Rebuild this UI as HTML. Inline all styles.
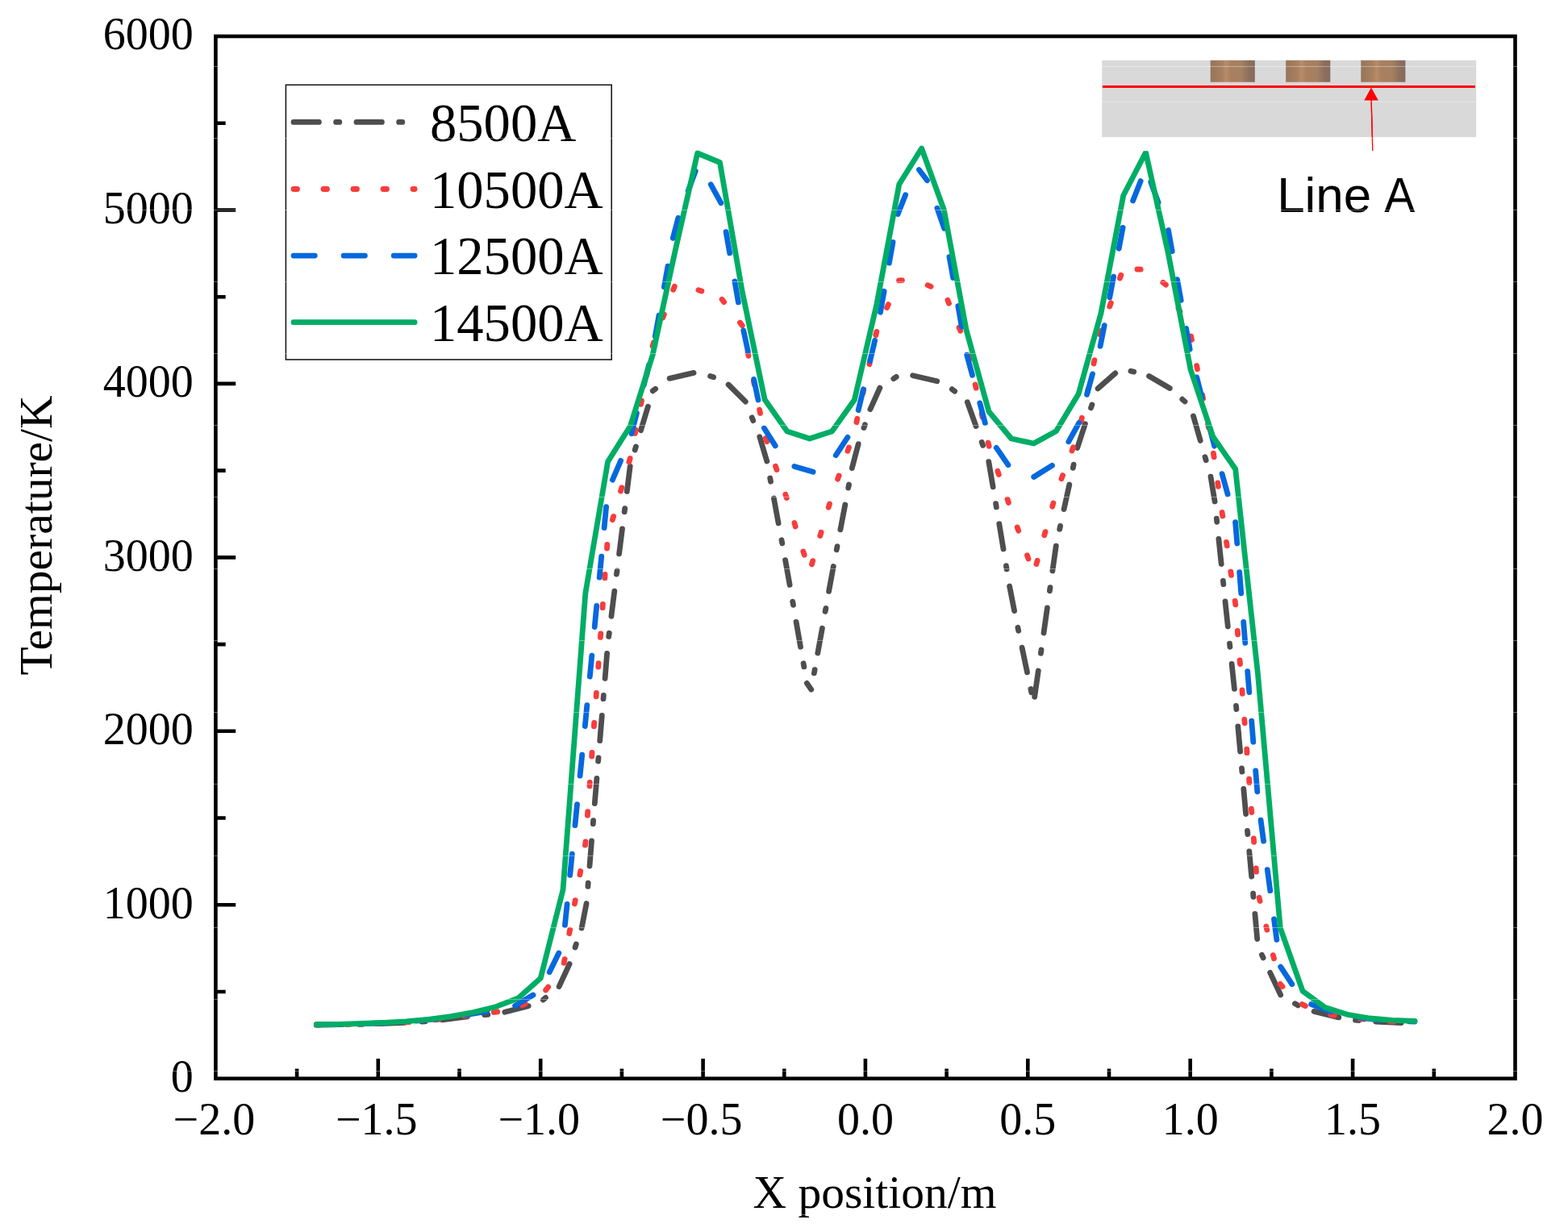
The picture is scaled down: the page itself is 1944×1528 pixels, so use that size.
<!DOCTYPE html>
<html lang="en"><head><meta charset="utf-8"><title>Temperature along Line A</title>
<style>html,body{margin:0;padding:0;background:#fff}body{width:1944px;height:1528px;overflow:hidden}svg{display:block}text{font-family:"Liberation Serif","Times New Roman",Times,serif;fill:#000}.tk{font-size:56px}.tt{font-size:57.5px}.lg{font-size:66.6px}.sa{font-family:"Liberation Sans",Arial,Helvetica,sans-serif;font-size:61px}</style></head><body>
<svg width="1944" height="1528" viewBox="0 0 1944 1528">
<defs><linearGradient id="cu" x1="0" y1="0" x2="1" y2="0"><stop offset="0" stop-color="#98745a"/><stop offset="0.15" stop-color="#a07b5d"/><stop offset="0.27" stop-color="#a9815f"/><stop offset="0.35" stop-color="#b68c6b"/><stop offset="0.46" stop-color="#aa7f5f"/><stop offset="0.7" stop-color="#a58062"/><stop offset="0.86" stop-color="#8d6f5c"/><stop offset="1" stop-color="#856a5d"/></linearGradient></defs>
<rect width="1944" height="1528" fill="#fff"/>
<g id="inset">
<rect x="1366.2" y="74.8" width="464" height="95.5" fill="#d9d9d9"/>
<rect x="1500.7" y="74.8" width="55.1" height="27" fill="url(#cu)"/>
<rect x="1594.2" y="74.8" width="55.1" height="27" fill="url(#cu)"/>
<rect x="1687.3" y="74.8" width="55.1" height="27" fill="url(#cu)"/>
<line x1="1367" y1="107.5" x2="1828.8" y2="107.5" stroke="#ff0000" stroke-width="3"/>
<line x1="1700.1" y1="122" x2="1701.8" y2="187" stroke="#ff0000" stroke-width="1.3"/>
<path d="M1700 108.6L1708.8 124.4L1691.3 124.4Z" fill="#ff0000"/>
<text class="sa" y="262.6"><tspan x="1583.2" textLength="117" lengthAdjust="spacingAndGlyphs">Line</tspan> <tspan x="1716.3" textLength="38" lengthAdjust="spacingAndGlyphs">A</tspan></text>
</g>
<g id="curves" fill="none" stroke-width="6.8">
<path d="M392.3 1271.1L423.7 1270.7M445.0 1270.4L449.2 1270.3M470.4 1269.7L501.8 1268.4M523.0 1267.0L527.2 1266.8M548.3 1264.8L579.5 1260.8M600.6 1258.6L604.8 1258.3M625.8 1255.3L655.2 1247.7M673.3 1240.1L676.5 1237.4M693.1 1223.7L706.1 1195.5M713.0 1175.1L714.3 1171.1M721.1 1151.1L727.1 1120.5M728.9 1099.4L729.2 1095.2M731.0 1074.0L733.5 1042.8M735.3 1021.8L735.6 1017.7M737.3 996.5L739.9 965.3M741.6 944.1L742.0 939.9M743.7 918.7L746.3 887.5M748.0 866.7L748.3 862.5M750.1 841.4L752.6 810.3M754.7 789.5L755.3 785.3M757.9 764.3L761.8 733.1M764.4 712.1L765.0 707.9M767.6 686.9L771.5 655.8M774.2 634.8L774.7 630.6M777.3 609.5L781.2 578.3M787.2 558.0L788.4 554.0M794.5 533.7L803.4 504.2M809.3 484.8L812.7 482.3M830.1 469.4L860.1 462.4M880.6 466.6L884.6 467.8M903.1 477.0L924.3 498.1M932.2 517.8L933.8 521.7M941.8 541.7L950.8 572.0M954.7 593.0L955.5 597.2M959.4 618.0L965.1 648.9M969.0 669.8L969.8 673.9M973.6 694.6L979.1 725.3M982.7 746.2L983.5 750.3M987.1 771.4L992.5 802.2M996.1 822.8L996.8 826.8M1000.4 847.3L1005.7 855.2M1009.4 834.8L1010.1 830.7M1013.8 810.0L1019.4 779.3M1023.1 758.5L1023.9 754.4M1027.6 733.4L1033.3 702.5M1037.2 681.8L1038.0 677.7M1041.9 656.8L1047.8 626.0M1051.7 605.1L1052.5 601.0M1056.3 580.6L1064.2 550.6M1071.0 530.6L1072.4 526.7M1078.9 507.6L1090.9 481.0M1107.8 469.7L1111.2 467.4M1131.6 465.7L1161.8 472.8M1180.3 482.7L1183.7 485.2M1199.4 498.8L1210.0 528.5M1217.2 548.4L1218.6 552.4M1225.8 572.6L1231.1 603.8M1234.6 624.7L1235.3 628.9M1238.8 649.8L1244.0 680.9M1247.4 701.8L1248.1 705.9M1251.6 727.0L1257.6 757.7M1261.9 778.3L1262.7 782.4M1267.1 803.2L1273.5 833.8M1277.9 854.5L1278.7 858.7M1282.7 864.3L1287.3 832.0M1290.4 810.2L1291.0 806.0M1294.0 785.0L1298.4 753.9M1301.4 732.8L1302.0 728.7M1304.9 708.0L1309.3 677.1M1313.7 656.4L1314.6 652.3M1319.1 631.6L1325.8 601.0M1330.3 580.3L1331.1 576.2M1335.7 555.4L1345.4 525.7M1352.5 505.9L1353.9 501.9M1361.1 481.9L1382.8 462.9M1401.9 460.2L1405.8 461.1M1424.6 466.5L1450.3 481.5M1465.8 495.2L1469.0 498.0M1479.5 516.0L1488.2 546.4M1494.0 566.8L1495.2 570.8M1501.0 591.2L1506.1 622.0M1508.3 643.1L1508.7 647.3M1510.9 668.4L1514.2 699.5M1516.4 720.5L1516.8 724.7M1519.0 745.8L1522.3 777.0M1524.5 798.1L1524.9 802.3M1527.1 823.3L1530.4 854.4M1532.5 875.5L1532.9 879.6M1534.8 900.8L1537.6 932.0M1539.5 953.0L1539.9 957.2M1541.8 978.3L1544.6 1009.5M1546.5 1030.5L1546.9 1034.6M1548.8 1055.9L1551.7 1087.1M1553.6 1108.2L1553.9 1112.3M1555.9 1133.4L1558.7 1164.5M1564.4 1184.2L1566.2 1187.9M1574.7 1206.4L1587.7 1234.0M1605.5 1244.7L1609.1 1246.9M1629.1 1254.4L1659.8 1261.9M1680.5 1265.2L1684.7 1265.5M1705.8 1267.2L1737.2 1268.7" stroke="#4e4e4e" stroke-linecap="round"/>
<path d="M392.3 1271.0L396.8 1271.0M429.1 1270.5L433.6 1270.4M465.9 1269.5L470.4 1269.4M502.7 1267.8L507.1 1267.5M539.3 1264.9L543.8 1264.4M575.8 1259.9L580.2 1259.2M612.3 1255.5L616.7 1254.8M647.3 1246.6L651.3 1244.8M676.6 1228.0L679.7 1224.2M699.2 1194.4L700.1 1189.7M705.8 1157.7L706.6 1153.2M712.4 1121.0L713.2 1116.6M718.9 1084.9L719.7 1080.5M725.5 1048.2L726.0 1043.8M728.4 1011.2L728.7 1006.7M731.0 974.9L731.3 970.4M733.7 938.0L734.0 933.5M736.4 900.8L736.7 896.3M739.1 863.8L739.4 859.3M741.8 827.1L742.1 822.6M744.4 790.4L744.8 785.9M747.1 753.7L747.4 749.3M749.8 716.9L750.1 712.4M752.5 680.0L752.8 675.5M759.3 644.7L760.6 640.4M769.5 609.1L770.8 604.7M779.9 572.9L781.2 568.6M787.4 537.6L788.3 533.2M794.6 501.3L795.5 496.9M801.8 465.2L802.7 460.8M809.0 429.1L810.5 424.8M821.8 394.1L823.4 389.9M834.7 359.3L836.3 355.2M865.9 359.7L869.9 360.9M895.1 371.3L897.6 374.6M917.5 400.1L920.3 403.8M927.1 436.7L928.0 441.3M934.4 472.6L935.2 476.9M941.6 508.2L942.5 512.5M949.4 543.5L950.8 547.7M961.5 578.3L963.0 582.6M973.8 613.3L975.3 617.6M984.9 648.6L986.2 652.9M995.8 684.0L997.2 688.3M1006.5 699.9L1007.7 695.6M1016.8 664.6L1018.1 660.3M1027.2 629.2L1028.5 624.9M1038.6 594.2L1040.1 590.0M1050.9 559.3L1052.4 555.0M1061.9 523.7L1062.8 519.3M1069.9 487.7L1070.8 483.3M1077.9 451.7L1078.8 447.3M1085.8 415.7L1086.8 411.4M1099.6 381.7L1101.4 377.6M1114.5 347.9L1118.4 347.6M1150.1 353.7L1154.1 355.3M1174.9 372.2L1176.5 376.2M1189.0 406.1L1190.7 410.3M1201.0 440.9L1202.0 445.3M1209.1 477.0L1210.1 481.3M1217.1 513.0L1218.1 517.4M1225.1 549.1L1226.2 553.4M1236.9 584.3L1238.3 588.5M1249.0 619.2L1250.4 623.4M1261.2 654.0L1262.7 658.2M1273.5 688.8L1275.0 693.1M1284.9 699.6L1286.1 695.3M1294.8 663.9L1296.0 659.6M1304.7 628.2L1305.9 623.9M1316.0 593.8L1317.6 589.6M1329.0 559.0L1330.6 554.7M1340.3 522.7L1341.3 518.2M1348.2 486.8L1349.1 482.4M1356.0 451.0L1356.9 446.6M1363.8 414.9L1364.8 410.5M1375.7 380.0L1377.3 375.7M1388.4 345.1L1389.8 341.2M1410.0 334.0L1414.2 334.2M1441.8 350.3L1445.4 353.1M1461.0 382.3L1463.0 386.5M1476.6 417.0L1477.5 421.5M1483.6 453.5L1484.5 457.9M1490.7 489.9L1491.5 494.3M1497.6 526.1L1498.5 530.5M1504.4 562.3L1505.1 566.8M1509.8 598.9L1510.4 603.3M1515.1 635.5L1515.8 640.0M1520.5 672.4L1521.2 676.8M1525.8 709.0L1526.5 713.4M1531.2 745.4L1531.8 749.9M1534.3 782.3L1534.6 786.8M1537.1 819.0L1537.5 823.5M1540.0 855.9L1540.3 860.3M1542.8 892.4L1543.2 896.8M1545.7 929.2L1546.0 933.7M1548.6 966.2L1548.9 970.7M1551.4 1003.1L1551.8 1007.5M1554.3 1039.8L1554.6 1044.3M1557.2 1076.8L1557.5 1081.2M1561.1 1113.2L1562.1 1117.5M1569.8 1149.0L1570.8 1153.3M1578.4 1184.6L1579.5 1188.9M1587.1 1220.4L1590.0 1223.6M1614.3 1245.6L1618.4 1247.6M1649.7 1258.5L1654.2 1259.3M1686.3 1263.7L1690.8 1264.2M1723.2 1266.8L1727.7 1267.0" stroke="#f83c3c" stroke-linecap="round"/>
<path d="M392.3 1270.9L418.6 1270.5M454.3 1269.6L480.5 1268.5M516.2 1266.2L542.3 1263.7M577.7 1258.6L603.6 1254.4M638.6 1247.4L661.0 1234.0M681.2 1205.7L692.8 1182.1M700.4 1147.6L703.1 1121.3M706.7 1085.3L709.3 1059.1M712.9 1023.7L715.5 997.7M719.1 962.2L721.7 936.1M725.3 900.6L727.8 874.6M731.3 839.1L733.8 813.1M737.2 777.5L739.7 751.5M743.2 716.2L745.7 690.2M749.1 654.6L751.6 628.7M759.4 595.2L769.6 571.3M782.9 537.9L789.4 512.4M798.2 477.6L804.7 452.1M812.3 417.1L817.0 391.2M823.4 356.0L828.0 330.2M834.3 295.4L840.9 270.2M853.2 236.7L862.3 212.1M881.3 228.8L893.8 251.7M900.1 287.7L904.7 313.8M910.9 349.0L915.4 374.8M921.8 409.9L927.3 435.5M934.6 470.4L940.0 496.0M947.4 531.0L961.2 552.9M984.8 578.4L1008.1 585.3M1036.3 564.7L1050.9 542.4M1064.2 508.6L1070.4 482.7M1078.6 447.9L1084.7 422.3M1091.5 387.2L1096.1 361.3M1102.4 326.1L1107.0 300.4M1113.2 265.6L1122.6 241.7M1139.4 210.5L1149.5 223.7M1161.9 258.2L1170.7 283.3M1177.0 318.7L1181.6 344.5M1187.8 379.5L1192.3 405.2M1198.7 440.1L1205.5 465.4M1214.8 499.9L1221.4 524.8M1235.3 555.4L1249.9 576.7M1281.7 591.5L1304.4 577.4M1324.8 547.8L1337.8 524.4M1347.5 489.4L1354.5 463.9M1364.1 429.4L1369.2 403.7M1375.8 368.8L1380.6 343.1M1387.2 308.2L1392.1 282.4M1404.6 248.9L1414.2 224.6M1426.8 225.8L1436.0 251.0M1448.5 285.5L1453.2 311.6M1459.5 346.6L1464.2 372.3M1470.6 407.5L1475.2 433.2M1483.7 467.9L1490.2 493.3M1499.0 527.9L1505.6 553.2M1515.1 587.6L1522.1 613.0M1531.6 647.7L1533.8 674.0M1536.7 709.7L1538.8 735.9M1541.7 771.5L1543.8 797.4M1546.7 832.6L1548.8 858.6M1551.7 894.1L1553.8 920.2M1556.7 955.8L1558.8 981.8M1563.1 1017.2L1566.6 1043.2M1571.3 1078.7L1574.8 1104.7M1579.5 1140.0L1582.9 1165.5M1587.7 1199.2L1601.8 1220.7M1625.6 1245.6L1650.2 1254.8M1685.2 1262.1L1711.3 1265.2M1747.0 1266.9L1754.0 1267.0" stroke="#0668de" stroke-linecap="round"/>
<path d="M392.3 1270.7L420.1 1270.3L447.9 1269.5L475.7 1268.4L503.5 1266.8L531.2 1264.3L559.0 1260.6L586.8 1255.5L614.6 1248.7L642.4 1238.0L670.2 1213.3L698.0 1103.5L725.8 736.0L753.6 572.5L781.4 528.5L809.1 440.5L836.9 312.0L864.7 190.0L892.5 201.5L920.3 362.0L948.1 495.5L975.9 535.0L1003.7 544.0L1031.5 535.0L1059.3 496.0L1087.0 377.0L1114.8 228.5L1142.6 184.0L1170.4 260.5L1198.2 410.0L1226.0 510.5L1253.8 544.0L1281.6 550.0L1309.4 534.7L1337.2 488.4L1365.0 388.5L1392.7 242.5L1420.5 189.0L1448.3 314.0L1476.1 458.5L1503.9 541.8L1531.7 581.8L1559.5 836.0L1587.3 1151.0L1615.1 1229.3L1642.8 1249.5L1670.6 1258.3L1698.4 1263.0L1726.2 1265.4L1754.0 1266.3" stroke="#00ad65" stroke-linecap="round" stroke-linejoin="round"/>
</g>
<rect x="1366.2" y="170.3" width="464" height="16.9" fill="#fff"/>
<line x1="1700.1" y1="122" x2="1701.8" y2="187" stroke="#ff0000" stroke-width="1.3"/>
<g id="axes" stroke="#000" stroke-width="4.6" fill="none">
<rect x="267.4" y="45.0" width="1611.1" height="1292.7"/>
<path d="M267.4 1230.0h12.3M267.4 1122.2h24.8M267.4 1014.5h12.3M267.4 906.8h24.8M267.4 799.1h12.3M267.4 691.4h24.8M267.4 583.6h12.3M267.4 475.9h24.8M267.4 368.2h12.3M267.4 260.5h24.8M267.4 152.7h12.3M368.1 1337.7v-12.3M468.8 1337.7v-24.8M569.5 1337.7v-12.3M670.2 1337.7v-24.8M770.9 1337.7v-12.3M871.6 1337.7v-24.8M972.3 1337.7v-12.3M1072.9 1337.7v-24.8M1173.6 1337.7v-12.3M1274.3 1337.7v-24.8M1375.0 1337.7v-12.3M1475.7 1337.7v-24.8M1576.4 1337.7v-12.3M1677.1 1337.7v-24.8M1777.8 1337.7v-12.3"/>
</g>
<g id="labels">
<text class="tk" x="239.8" y="1354.1" text-anchor="end">0</text>
<text class="tk" x="239.8" y="1138.7" text-anchor="end">1000</text>
<text class="tk" x="239.8" y="923.2" text-anchor="end">2000</text>
<text class="tk" x="239.8" y="707.8" text-anchor="end">3000</text>
<text class="tk" x="239.8" y="492.3" text-anchor="end">4000</text>
<text class="tk" x="239.8" y="276.9" text-anchor="end">5000</text>
<text class="tk" x="239.8" y="61.4" text-anchor="end">6000</text>
<text class="tk" x="265.4" y="1406.5" text-anchor="middle">−2.0</text>
<text class="tk" x="466.8" y="1406.5" text-anchor="middle">−1.5</text>
<text class="tk" x="668.2" y="1406.5" text-anchor="middle">−1.0</text>
<text class="tk" x="869.6" y="1406.5" text-anchor="middle">−0.5</text>
<text class="tk" x="1072.9" y="1406.5" text-anchor="middle">0.0</text>
<text class="tk" x="1274.3" y="1406.5" text-anchor="middle">0.5</text>
<text class="tk" x="1475.7" y="1406.5" text-anchor="middle">1.0</text>
<text class="tk" x="1677.1" y="1406.5" text-anchor="middle">1.5</text>
<text class="tk" x="1878.5" y="1406.5" text-anchor="middle">2.0</text>
<text class="tt" x="1084.5" y="1498" text-anchor="middle">X position/m</text>
<text class="tt" transform="translate(63.5 664) rotate(-90)" text-anchor="middle">Temperature/K</text>
</g>
<g id="legend">
<rect x="354.4" y="105.3" width="403.8" height="340.7" fill="#fff" stroke="#1a1a1a" stroke-width="1.6"/>
<g fill="none" stroke-width="6.8" stroke-linecap="round">
<path d="M364.0 151.4L395.4 151.4M416.6 151.4L420.8 151.4M442.0 151.4L473.4 151.4M494.6 151.4L498.8 151.4" stroke="#4e4e4e"/>
<path d="M364.0 234.5L368.5 234.5M401.0 234.5L405.5 234.5M438.0 234.5L442.5 234.5M475.0 234.5L479.5 234.5M512.0 234.5L514.1 234.5" stroke="#f83c3c"/>
<path d="M364.0 317.1L390.3 317.1M426.1 317.1L452.4 317.1M488.2 317.1L514.1 317.1" stroke="#0668de"/>
<path d="M364.0 399.7L514.1 399.7" stroke="#00ad65"/>
</g>
<text class="lg" x="533" y="174.7">8500A</text>
<text class="lg" x="533" y="257.6">10500A</text>
<text class="lg" x="533" y="340.2">12500A</text>
<text class="lg" x="533" y="423.0">14500A</text>
</g>
<g id="seams" fill="#fff" opacity="0.4"><rect x="0" y="82.00" width="1944" height="0.9"/><rect x="0" y="171.00" width="1944" height="0.9"/><rect x="0" y="260.00" width="1944" height="0.9"/><rect x="0" y="349.00" width="1944" height="0.9"/><rect x="0" y="438.00" width="1944" height="0.9"/><rect x="0" y="527.00" width="1944" height="0.9"/><rect x="0" y="616.00" width="1944" height="0.9"/><rect x="0" y="705.00" width="1944" height="0.9"/><rect x="0" y="794.00" width="1944" height="0.9"/><rect x="0" y="883.00" width="1944" height="0.9"/><rect x="0" y="972.00" width="1944" height="0.9"/><rect x="0" y="1061.00" width="1944" height="0.9"/><rect x="0" y="1150.00" width="1944" height="0.9"/><rect x="0" y="1239.00" width="1944" height="0.9"/><rect x="0" y="1328.00" width="1944" height="0.9"/><rect x="0" y="1417.00" width="1944" height="0.9"/><rect x="0" y="1506.00" width="1944" height="0.9"/><rect x="1366" y="125.7" width="464.5" height="0.9"/></g>
</svg></body></html>
